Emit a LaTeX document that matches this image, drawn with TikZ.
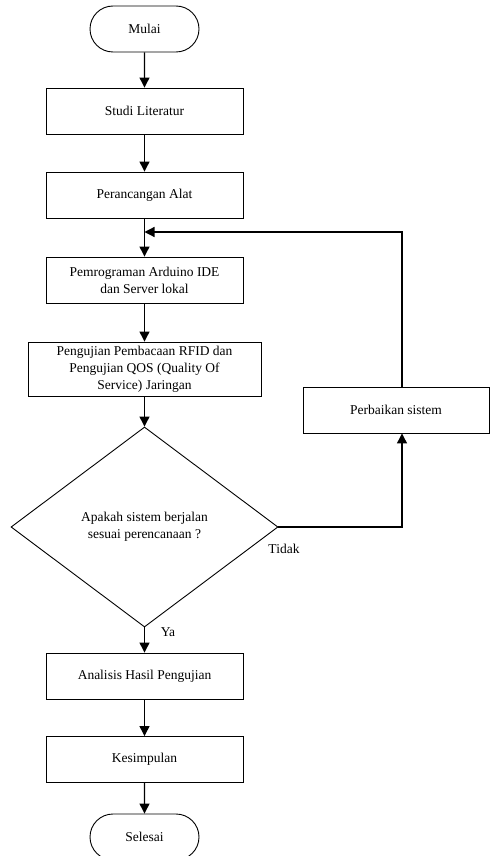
\documentclass[tikz,border=0pt]{standalone}
\usepackage{fontspec}
\setmainfont{Liberation Serif}
\usetikzlibrary{shapes.geometric,shapes.misc,arrows.meta}
\tikzset{
  base/.style={draw, line width=0.9pt, inner sep=0pt, align=center, font=\fontsize{13.5}{17}\selectfont},
  stepbox/.style={base, rectangle, minimum width=197pt, minimum height=46pt},
  term/.style={base, rounded rectangle, minimum width=109pt, minimum height=46pt},
  decide/.style={base, diamond, minimum width=267pt, minimum height=200pt},
  lbl/.style={inner sep=0pt, font=\fontsize{13.5}{17}\selectfont},
  arr/.style={line width=1.2pt, -{Triangle[width=10pt,length=10pt]}}
}
\begin{document}
\begin{tikzpicture}[x=1pt,y=-1pt]
\useasboundingbox (0,0) rectangle (490,856);
\node[term] (mulai) at (144.5,29) {Mulai};
\node[stepbox] (studi) at (144.5,111) {Studi Literatur};
\node[stepbox] (perc) at (144.5,195) {Perancangan Alat};
\node[stepbox] (prog) at (144.5,280) {Pemrograman Arduino IDE\\dan Server lokal};
\node[base, rectangle, minimum width=233pt, minimum height=54pt] (uji) at (144.5,369) {Pengujian Pembacaan RFID dan\\Pengujian QOS (Quality Of\\Service) Jaringan};
\node[decide] (dec) at (144.5,527) {Apakah sistem berjalan\\sesuai perencanaan ?};
\node[stepbox, minimum width=186pt] (perb) at (396,410) {Perbaikan sistem};
\node[stepbox] (anal) at (144.5,676) {Analisis Hasil Pengujian};
\node[stepbox] (kes) at (144.5,759.5) {Kesimpulan};
\node[term] (sel) at (144.5,837) {Selesai};
\node[lbl] (tidak) at (284,549) {Tidak};
\node[lbl] (ya) at (168,632) {Ya};
\coordinate (loopc) at (402,232);
\draw[arr] (mulai) -- (studi);
\draw[arr] (studi) -- (perc);
\draw[arr] (perc) -- (prog);
\draw[arr] (prog) -- (uji);
\draw[arr] (uji) -- (dec);
\draw[arr] (dec) -- (anal);
\draw[arr] (anal) -- (kes);
\draw[arr] (kes) -- (sel);
\draw[arr] (dec.east) -| (perb.south -| loopc);
\draw[arr] (perb.north -| loopc) |- (perc.south |- loopc);
\end{tikzpicture}
\end{document}
